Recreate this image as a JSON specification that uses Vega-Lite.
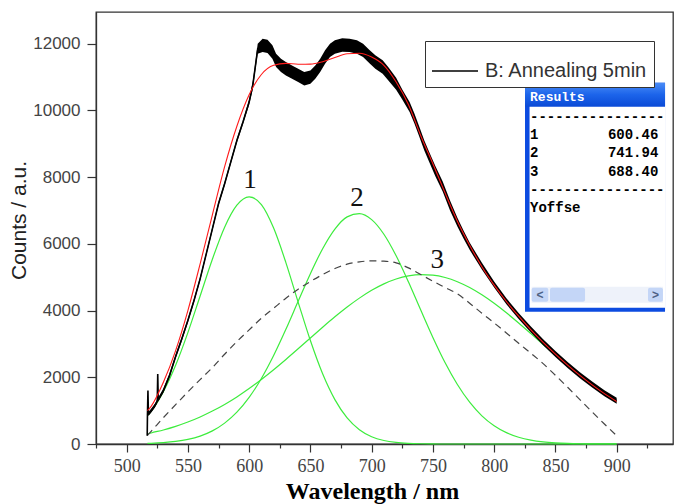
{
  "$schema": "https://vega.github.io/schema/vega-lite/v6.json",
  "width": 577,
  "height": 432,
  "autosize": "none",
  "padding": {"left": 96, "top": 12, "right": 1, "bottom": 60},
  "background": "white",
  "datasets": {
    "spec": [
      {"nm": 516.8, "counts": 250, "lo": 250, "hi": 250},
      {"nm": 517, "counts": 860, "lo": 800, "hi": 920},
      {"nm": 517.4, "counts": 1600, "lo": 1600, "hi": 1600},
      {"nm": 517.8, "counts": 900, "lo": 840, "hi": 960},
      {"nm": 520, "counts": 1000, "lo": 940, "hi": 1060},
      {"nm": 523, "counts": 1150, "lo": 1090, "hi": 1210},
      {"nm": 525, "counts": 1280, "lo": 1220, "hi": 1340},
      {"nm": 525.4, "counts": 2100, "lo": 2100, "hi": 2100},
      {"nm": 525.8, "counts": 1330, "lo": 1270, "hi": 1390},
      {"nm": 530, "counts": 1600, "lo": 1540, "hi": 1660},
      {"nm": 535, "counts": 2050, "lo": 1990, "hi": 2110},
      {"nm": 540, "counts": 2620, "lo": 2560, "hi": 2680},
      {"nm": 545, "counts": 3150, "lo": 3090, "hi": 3210},
      {"nm": 550, "counts": 3700, "lo": 3640, "hi": 3760},
      {"nm": 555, "counts": 4300, "lo": 4240, "hi": 4360},
      {"nm": 560, "counts": 4950, "lo": 4890, "hi": 5010},
      {"nm": 565, "counts": 5700, "lo": 5640, "hi": 5760},
      {"nm": 570, "counts": 6450, "lo": 6390, "hi": 6510},
      {"nm": 575, "counts": 7200, "lo": 7140, "hi": 7260},
      {"nm": 580, "counts": 7800, "lo": 7740, "hi": 7860},
      {"nm": 585, "counts": 8450, "lo": 8390, "hi": 8510},
      {"nm": 590, "counts": 9100, "lo": 9040, "hi": 9160},
      {"nm": 595, "counts": 9650, "lo": 9590, "hi": 9710},
      {"nm": 600, "counts": 10250, "lo": 10170, "hi": 10330},
      {"nm": 603, "counts": 10760, "lo": 10640, "hi": 10880},
      {"nm": 605, "counts": 11300, "lo": 11180, "hi": 11420},
      {"nm": 607, "counts": 11850, "lo": 11700, "hi": 12000},
      {"nm": 611, "counts": 11950, "lo": 11750, "hi": 12150},
      {"nm": 615, "counts": 11920, "lo": 11720, "hi": 12120},
      {"nm": 619, "counts": 11750, "lo": 11550, "hi": 11950},
      {"nm": 622, "counts": 11500, "lo": 11300, "hi": 11700},
      {"nm": 626, "counts": 11350, "lo": 11150, "hi": 11550},
      {"nm": 630, "counts": 11250, "lo": 11050, "hi": 11450},
      {"nm": 635, "counts": 11150, "lo": 10950, "hi": 11350},
      {"nm": 640, "counts": 11050, "lo": 10850, "hi": 11250},
      {"nm": 645, "counts": 10950, "lo": 10750, "hi": 11150},
      {"nm": 650, "counts": 11000, "lo": 10800, "hi": 11200},
      {"nm": 654, "counts": 11150, "lo": 10950, "hi": 11350},
      {"nm": 658, "counts": 11350, "lo": 11150, "hi": 11550},
      {"nm": 662, "counts": 11600, "lo": 11400, "hi": 11800},
      {"nm": 666, "counts": 11800, "lo": 11600, "hi": 12000},
      {"nm": 670, "counts": 11900, "lo": 11700, "hi": 12100},
      {"nm": 676, "counts": 11960, "lo": 11760, "hi": 12160},
      {"nm": 682, "counts": 11950, "lo": 11750, "hi": 12150},
      {"nm": 688, "counts": 11900, "lo": 11700, "hi": 12100},
      {"nm": 693, "counts": 11800, "lo": 11600, "hi": 12000},
      {"nm": 698, "counts": 11620, "lo": 11420, "hi": 11820},
      {"nm": 703, "counts": 11450, "lo": 11250, "hi": 11650},
      {"nm": 709, "counts": 11300, "lo": 11100, "hi": 11500},
      {"nm": 714, "counts": 11080, "lo": 10880, "hi": 11280},
      {"nm": 720, "counts": 10800, "lo": 10620, "hi": 10980},
      {"nm": 725, "counts": 10480, "lo": 10330, "hi": 10630},
      {"nm": 731, "counts": 10100, "lo": 9950, "hi": 10250},
      {"nm": 735, "counts": 9750, "lo": 9600, "hi": 9900},
      {"nm": 739, "counts": 9350, "lo": 9200, "hi": 9500},
      {"nm": 743, "counts": 8950, "lo": 8800, "hi": 9100},
      {"nm": 747, "counts": 8600, "lo": 8450, "hi": 8750},
      {"nm": 752, "counts": 8180, "lo": 8030, "hi": 8330},
      {"nm": 758, "counts": 7720, "lo": 7570, "hi": 7870},
      {"nm": 764, "counts": 7150, "lo": 7000, "hi": 7300},
      {"nm": 770, "counts": 6650, "lo": 6520, "hi": 6780},
      {"nm": 775, "counts": 6280, "lo": 6160, "hi": 6400},
      {"nm": 780, "counts": 5930, "lo": 5820, "hi": 6040},
      {"nm": 790, "counts": 5330, "lo": 5230, "hi": 5430},
      {"nm": 800, "counts": 4780, "lo": 4690, "hi": 4870},
      {"nm": 810, "counts": 4280, "lo": 4190, "hi": 4370},
      {"nm": 820, "counts": 3840, "lo": 3750, "hi": 3930},
      {"nm": 830, "counts": 3430, "lo": 3340, "hi": 3520},
      {"nm": 840, "counts": 3050, "lo": 2960, "hi": 3140},
      {"nm": 850, "counts": 2700, "lo": 2610, "hi": 2790},
      {"nm": 860, "counts": 2370, "lo": 2280, "hi": 2460},
      {"nm": 870, "counts": 2060, "lo": 1970, "hi": 2150},
      {"nm": 880, "counts": 1780, "lo": 1690, "hi": 1870},
      {"nm": 890, "counts": 1520, "lo": 1430, "hi": 1610},
      {"nm": 900, "counts": 1300, "lo": 1210, "hi": 1390}
    ],
    "fit": [
      {"nm": 517, "fit": 1000, "p1": 850, "p2": 17, "p3": 300, "base": 260},
      {"nm": 520, "fit": 1130, "p1": 978, "p2": 21, "p3": 331, "base": 380},
      {"nm": 530, "fit": 1850, "p1": 1568, "p2": 41, "p3": 421, "base": 790},
      {"nm": 540, "fit": 2800, "p1": 2361, "p2": 77, "p3": 530, "base": 1180},
      {"nm": 550, "fit": 4000, "p1": 3340, "p2": 138, "p3": 659, "base": 1560},
      {"nm": 560, "fit": 5400, "p1": 4438, "p2": 238, "p3": 811, "base": 1930},
      {"nm": 570, "fit": 6870, "p1": 5540, "p2": 394, "p3": 987, "base": 2290},
      {"nm": 580, "fit": 8312, "p1": 6499, "p2": 626, "p3": 1187, "base": 2690},
      {"nm": 590, "fit": 9525, "p1": 7159, "p2": 954, "p3": 1412, "base": 3070},
      {"nm": 600, "fit": 10468, "p1": 7408, "p2": 1398, "p3": 1662, "base": 3420},
      {"nm": 610, "fit": 11077, "p1": 7177, "p2": 1965, "p3": 1935, "base": 3770},
      {"nm": 620, "fit": 11352, "p1": 6473, "p2": 2652, "p3": 2227, "base": 4070},
      {"nm": 630, "fit": 11410, "p1": 5438, "p2": 3437, "p3": 2535, "base": 4370},
      {"nm": 640, "fit": 11385, "p1": 4255, "p2": 4276, "p3": 2854, "base": 4640},
      {"nm": 650, "fit": 11387, "p1": 3101, "p2": 5107, "p3": 3179, "base": 4870},
      {"nm": 660, "fit": 11459, "p1": 2104, "p2": 5855, "p3": 3500, "base": 5080},
      {"nm": 670, "fit": 11587, "p1": 1331, "p2": 6444, "p3": 3812, "base": 5260},
      {"nm": 680, "fit": 11698, "p1": 783, "p2": 6809, "p3": 4106, "base": 5390},
      {"nm": 690, "fit": 11712, "p1": 430, "p2": 6907, "p3": 4373, "base": 5460},
      {"nm": 700, "fit": 11600, "p1": 219, "p2": 6726, "p3": 4607, "base": 5490},
      {"nm": 710, "fit": 11350, "p1": 104, "p2": 6288, "p3": 4800, "base": 5480},
      {"nm": 720, "fit": 10850, "p1": 46, "p2": 5643, "p3": 4945, "base": 5430},
      {"nm": 730, "fit": 10180, "p1": 19, "p2": 4863, "p3": 5039, "base": 5280},
      {"nm": 740, "fit": 9250, "p1": 7, "p2": 4022, "p3": 5080, "base": 5080},
      {"nm": 750, "fit": 8400, "p1": 2, "p2": 3194, "p3": 5062, "base": 4880},
      {"nm": 760, "fit": 7520, "p1": 0, "p2": 2434, "p3": 4990, "base": 4690},
      {"nm": 770, "fit": 6680, "p1": 0, "p2": 1782, "p3": 4864, "base": 4500},
      {"nm": 780, "fit": 5960, "p1": 0, "p2": 1252, "p3": 4689, "base": 4220},
      {"nm": 790, "fit": 5315, "p1": 0, "p2": 844, "p3": 4471, "base": 3920},
      {"nm": 800, "fit": 4763, "p1": 0, "p2": 547, "p3": 4216, "base": 3630},
      {"nm": 810, "fit": 4272, "p1": 0, "p2": 340, "p3": 3932, "base": 3330},
      {"nm": 820, "fit": 3830, "p1": 0, "p2": 203, "p3": 3627, "base": 3020},
      {"nm": 830, "fit": 3424, "p1": 0, "p2": 116, "p3": 3308, "base": 2720},
      {"nm": 840, "fit": 3048, "p1": 0, "p2": 64, "p3": 2984, "base": 2410},
      {"nm": 850, "fit": 2696, "p1": 0, "p2": 34, "p3": 2662, "base": 2060},
      {"nm": 860, "fit": 2366, "p1": 0, "p2": 17, "p3": 2349, "base": 1700},
      {"nm": 870, "fit": 2057, "p1": 0, "p2": 8, "p3": 2049, "base": 1330},
      {"nm": 880, "fit": 1773, "p1": 0, "p2": 4, "p3": 1769, "base": 960},
      {"nm": 890, "fit": 1511, "p1": 0, "p2": 2, "p3": 1509, "base": 600},
      {"nm": 900, "fit": 1275, "p1": 0, "p2": 1, "p3": 1274, "base": 250}
    ]
  },
  "config": {
    "view": {"stroke": "#333", "strokeWidth": 1.3},
    "axis": {"grid": false, "domainColor": "#333", "tickColor": "#333", "domainWidth": 1.3, "tickWidth": 1.2}
  },
  "resolve": {"axis": {"x": "independent"}},
  "layer": [
    {
      "data": {"name": "fit"},
      "mark": {"type": "line", "color": "#3dec3d", "strokeWidth": 1.2, "interpolate": "monotone"},
      "encoding": {
        "x": {
          "field": "nm", "type": "quantitative",
          "scale": {"domain": [475, 946], "nice": false, "zero": false},
          "axis": {
            "orient": "bottom",
            "values": [500, 550, 600, 650, 700, 750, 800, 850, 900],
            "format": "d",
            "labelOverlap": false,
            "labelFlush": false,
            "tickSize": 8,
            "labelPadding": 5,
            "labelFont": "Liberation Sans Narrow",
            "labelFontSize": 18,
            "labelColor": "#444",
            "title": "Wavelength / nm",
            "titleFont": "Liberation Serif",
            "titleFontWeight": "bold",
            "titleFontSize": 24,
            "titleColor": "#000",
            "titleBaseline": "alphabetic",
            "titleAlign": "center",
            "titleX": 276,
            "titleY": 54
          }
        },
        "y": {
          "field": "p1", "type": "quantitative",
          "scale": {"domain": [0, 12950], "nice": false, "zero": false},
          "axis": {
            "values": [0, 1000, 2000, 3000, 4000, 5000, 6000, 7000, 8000, 9000, 10000, 11000, 12000],
            "labelExpr": "datum.value % 2000 === 0 ? datum.label : ''",
            "labelOverlap": false,
            "format": "d",
            "tickSize": {"condition": {"test": "datum.value % 2000 === 0", "value": 9}, "value": 5},
            "labelPadding": 7,
            "labelFont": "Liberation Sans",
            "labelFontSize": 17,
            "labelColor": "#444",
            "title": "Counts / a.u.",
            "titleFont": "Liberation Sans",
            "titleFontWeight": "normal",
            "titleFontSize": 21,
            "titleColor": "#222",
            "titleBaseline": "middle",
            "titleAlign": "center",
            "titleAngle": -90,
            "titleX": -77,
            "titleY": 208
          }
        }
      }
    },
    {
      "data": {"name": "fit"},
      "mark": {"type": "line", "color": "#3dec3d", "strokeWidth": 1.2, "interpolate": "monotone"},
      "encoding": {
        "x": {"field": "nm", "type": "quantitative", "axis": {"orient": "bottom", "values": [475, 525, 575, 625, 675, 725, 775, 825, 875, 925], "labels": false, "domain": false, "tickSize": 4, "title": null}},
        "y": {"field": "p2", "type": "quantitative"}
      }
    },
    {
      "data": {"name": "fit"},
      "mark": {"type": "line", "color": "#3dec3d", "strokeWidth": 1.2, "interpolate": "monotone"},
      "encoding": {"x": {"field": "nm", "type": "quantitative", "axis": null}, "y": {"field": "p3", "type": "quantitative"}}
    },
    {
      "data": {"name": "fit"},
      "mark": {"type": "line", "color": "#444", "strokeWidth": 1.2, "strokeDash": [7, 5], "interpolate": "monotone"},
      "encoding": {"x": {"field": "nm", "type": "quantitative", "axis": null}, "y": {"field": "base", "type": "quantitative"}}
    },
    {
      "data": {"name": "spec"},
      "mark": {"type": "area", "color": "#000", "opacity": 1},
      "encoding": {"x": {"field": "nm", "type": "quantitative", "axis": null}, "y": {"field": "lo", "type": "quantitative"}, "y2": {"field": "hi"}}
    },
    {
      "data": {"name": "spec"},
      "mark": {"type": "line", "strokeWidth": 1.6},
      "encoding": {
        "x": {"field": "nm", "type": "quantitative", "axis": null},
        "y": {"field": "counts", "type": "quantitative"},
        "color": {
          "datum": "B: Annealing 5min",
          "scale": {"range": ["#000"]},
          "legend": {
            "title": null,
            "orient": "none",
            "legendX": 329,
            "legendY": 29,
            "symbolType": "stroke",
            "symbolSize": 2116,
            "symbolStrokeWidth": 1.5,
            "symbolStrokeColor": "#000",
            "labelFont": "Liberation Sans",
            "labelFontSize": 20,
            "labelColor": "#333",
            "labelOffset": 6,
            "labelLimit": 400,
            "labelExpr": "datum.label + ' '",
            "padding": 6,
            "strokeColor": "#333",
            "fillColor": "white"
          }
        }
      }
    },
    {
      "data": {"name": "fit"},
      "mark": {"type": "line", "color": "#ff1a1a", "strokeWidth": 1.1, "interpolate": "monotone"},
      "encoding": {"x": {"field": "nm", "type": "quantitative", "axis": null}, "y": {"field": "fit", "type": "quantitative"}}
    },
    {
      "data": {"values": [{}]},
      "mark": {"type": "text", "text": "1", "font": "Liberation Serif", "fontSize": 27, "color": "#111", "baseline": "middle"},
      "encoding": {"x": {"datum": 600.8, "type": "quantitative", "axis": null}, "y": {"datum": 7900, "type": "quantitative"}}
    },
    {
      "data": {"values": [{}]},
      "mark": {"type": "text", "text": "2", "font": "Liberation Serif", "fontSize": 27, "color": "#111", "baseline": "middle"},
      "encoding": {"x": {"datum": 688, "type": "quantitative", "axis": null}, "y": {"datum": 7380, "type": "quantitative"}}
    },
    {
      "data": {"values": [{}]},
      "mark": {"type": "text", "text": "3", "font": "Liberation Serif", "fontSize": 27, "color": "#111", "baseline": "middle"},
      "encoding": {"x": {"datum": 753.5, "type": "quantitative", "axis": null}, "y": {"datum": 5520, "type": "quantitative"}}
    },
    {
      "data": {"values": [{}]},
      "mark": {"type": "rect", "color": "#0c4be0"},
      "encoding": {"x": {"datum": 825.2, "type": "quantitative", "axis": null}, "x2": {"datum": 939.5}, "y": {"datum": 10831, "type": "quantitative"}, "y2": {"datum": 3966}}
    },
    {
      "data": {"values": [{}]},
      "mark": {"type": "rect", "color": {"gradient": "linear", "x1": 0, "y1": 0, "x2": 0, "y2": 1, "stops": [{"offset": 0, "color": "#4a8cf7"}, {"offset": 0.5, "color": "#1c64ea"}, {"offset": 1, "color": "#0a4ad6"}]}},
      "encoding": {"x": {"datum": 825.2, "type": "quantitative", "axis": null}, "x2": {"datum": 939.5}, "y": {"datum": 10831, "type": "quantitative"}, "y2": {"datum": 10111}}
    },
    {
      "data": {"values": [{}]},
      "mark": {"type": "rect", "color": "#ffffff"},
      "encoding": {"x": {"datum": 828.9, "type": "quantitative", "axis": null}, "x2": {"datum": 939.5}, "y": {"datum": 10111, "type": "quantitative"}, "y2": {"datum": 4086}}
    },
    {
      "data": {"values": [{}]},
      "mark": {"type": "rect", "color": "#eef2fa"},
      "encoding": {"x": {"datum": 830.6, "type": "quantitative", "axis": null}, "x2": {"datum": 937.8}, "y": {"datum": 4715, "type": "quantitative"}, "y2": {"datum": 4236}}
    },
    {
      "data": {"values": [{}]},
      "mark": {"type": "rect", "color": "#c4d6f7", "cornerRadius": 2},
      "encoding": {"x": {"datum": 845.6, "type": "quantitative", "axis": null}, "x2": {"datum": 874.2}, "y": {"datum": 4685, "type": "quantitative"}, "y2": {"datum": 4266}}
    },
    {
      "data": {"values": [{}]},
      "mark": {"type": "rect", "color": "#c4d6f7", "cornerRadius": 2},
      "encoding": {"x": {"datum": 830.6, "type": "quantitative", "axis": null}, "x2": {"datum": 844.2}, "y": {"datum": 4685, "type": "quantitative"}, "y2": {"datum": 4266}}
    },
    {
      "data": {"values": [{}]},
      "mark": {"type": "rect", "color": "#c4d6f7", "cornerRadius": 2},
      "encoding": {"x": {"datum": 925.6, "type": "quantitative", "axis": null}, "x2": {"datum": 937.8}, "y": {"datum": 4685, "type": "quantitative"}, "y2": {"datum": 4266}}
    },
    {
      "data": {"values": [{}]},
      "mark": {"type": "text", "text": "<", "font": "Liberation Sans", "fontWeight": "bold", "fontSize": 12, "color": "#4d6185", "baseline": "middle"},
      "encoding": {"x": {"datum": 837.4, "type": "quantitative", "axis": null}, "y": {"datum": 4475, "type": "quantitative"}}
    },
    {
      "data": {"values": [{}]},
      "mark": {"type": "text", "text": ">", "font": "Liberation Sans", "fontWeight": "bold", "fontSize": 12, "color": "#4d6185", "baseline": "middle"},
      "encoding": {"x": {"datum": 931.7, "type": "quantitative", "axis": null}, "y": {"datum": 4475, "type": "quantitative"}}
    },
    {
      "data": {"values": [{}]},
      "mark": {"type": "text", "text": "Results", "font": "Liberation Mono", "fontWeight": "bold", "fontSize": 13, "color": "#ffffff", "align": "left", "baseline": "middle"},
      "encoding": {"x": {"datum": 829.3, "type": "quantitative", "axis": null}, "y": {"datum": 10411, "type": "quantitative"}}
    },
    {
      "data": {"values": [{}]},
      "mark": {"type": "text", "text": ["----------------", "1", "2", "3", "----------------", "Yoffse"], "lineHeight": 18.3, "font": "Liberation Mono", "fontWeight": "bold", "fontSize": 14, "color": "#000", "align": "left", "baseline": "middle"},
      "encoding": {"x": {"datum": 829.3, "type": "quantitative", "axis": null}, "y": {"datum": 9812, "type": "quantitative"}}
    },
    {
      "data": {"values": [{}]},
      "mark": {"type": "text", "text": [" ", "600.46", "741.94", "688.40", " ", " "], "lineHeight": 18.3, "font": "Liberation Mono", "fontWeight": "bold", "fontSize": 14, "color": "#000", "align": "right", "baseline": "middle"},
      "encoding": {"x": {"datum": 934.0, "type": "quantitative", "axis": null}, "y": {"datum": 9812, "type": "quantitative"}}
    }
  ]
}
